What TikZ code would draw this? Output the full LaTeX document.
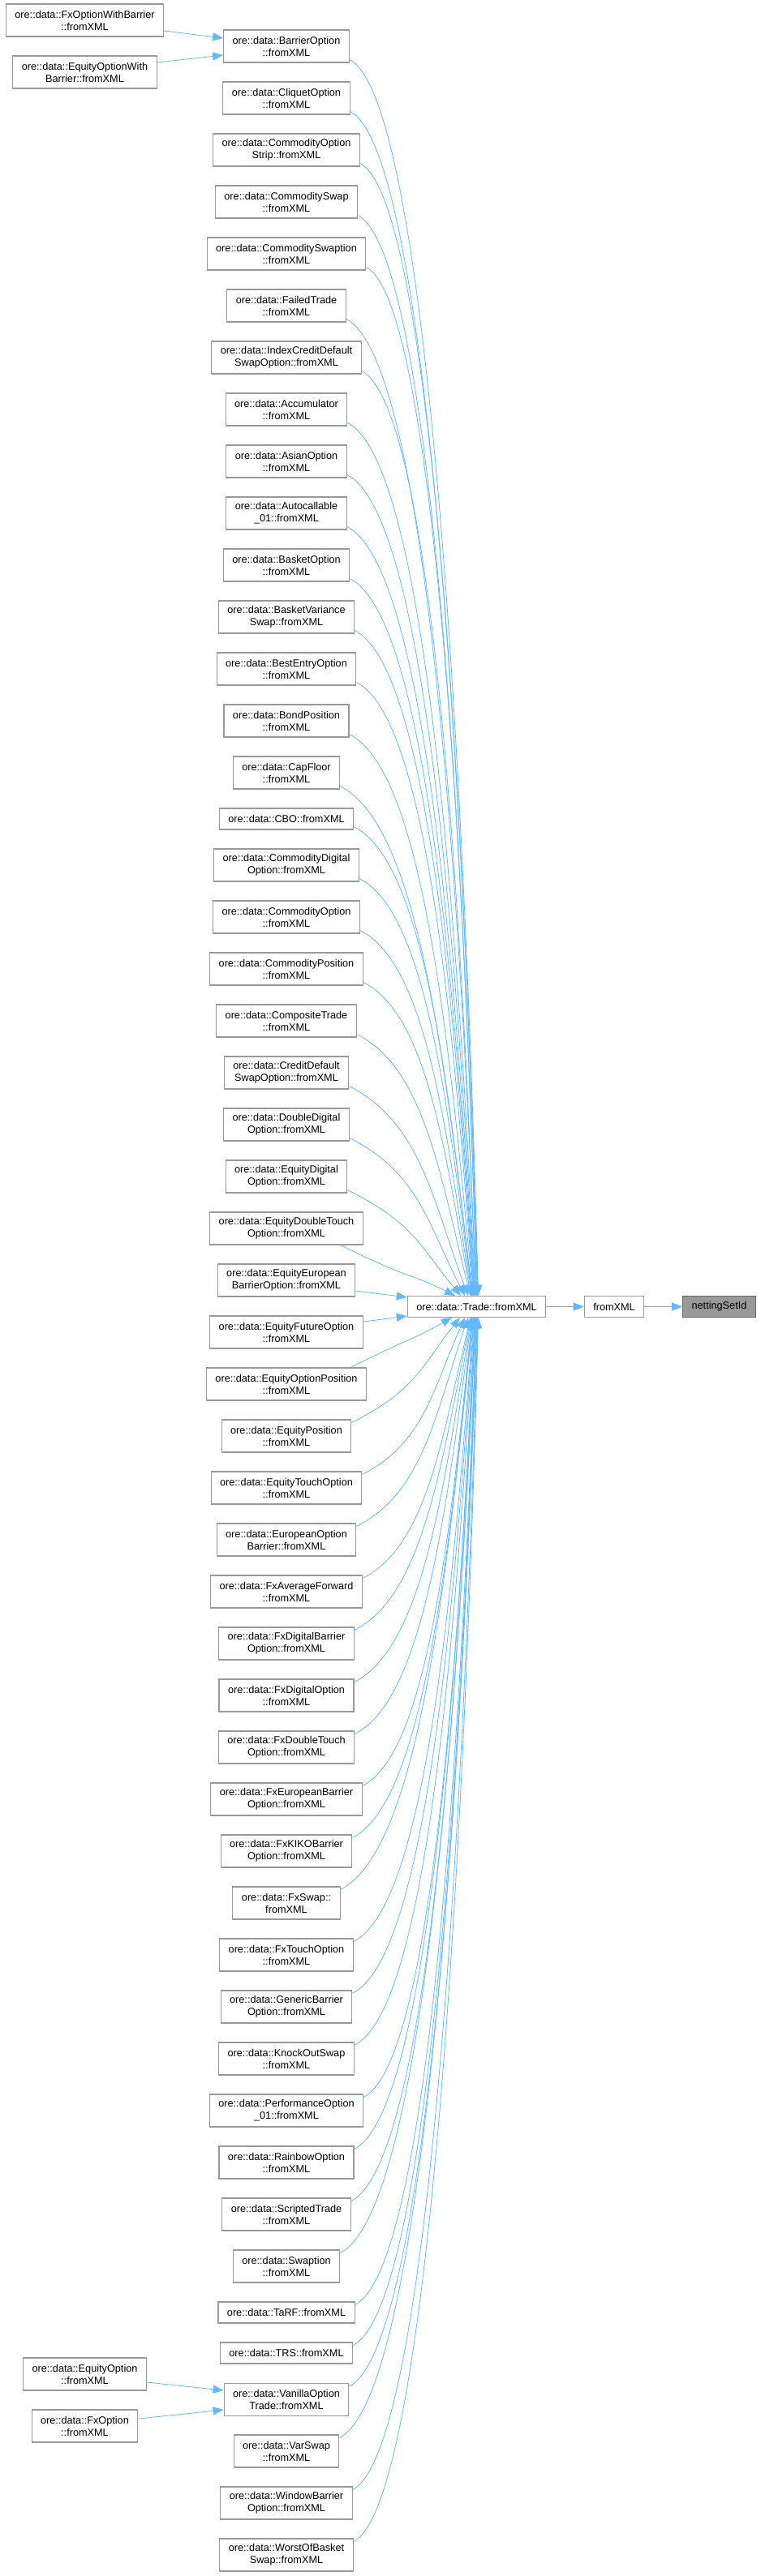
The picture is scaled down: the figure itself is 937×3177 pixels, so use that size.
\documentclass[tikz,border=0pt]{standalone}
\usepackage{fontspec}
\setmainfont{Liberation Sans}
\usetikzlibrary{arrows.meta,calc}
\definecolor{edgeblue}{HTML}{63B8FF}
\definecolor{boxgray}{HTML}{999999}
\definecolor{hlfill}{HTML}{999999}
\definecolor{hldraw}{HTML}{666666}
\newcommand\gfont{\fontsize{12.7pt}{15pt}\selectfont}
\newcommand\fanedge[3]{%
  \draw[edge] let \p1=#1, \p2=#2, \n1={\x2-\x1}, \n2={abs(\y1-\y2)},
    \n3={(\n1)/((\n1)+0.3*(\n2))} in
    (\p1) .. controls ($(\p1)+({0.6*\n1},{(#3)*0.3*\n1})$)
    and ($(\p2)+({-0.45*\n1*\n3},{(-1)*(#3)*0.45*\n2})$) .. (\p2);}
\begin{document}
\begin{tikzpicture}[x=1pt,y=1pt,
  box/.style={draw=boxgray, fill=white, line width=1.1pt, inner xsep=11pt,
    inner ysep=2pt, align=center, font=\gfont, minimum height=40pt},
  box1/.style={box, minimum height=26pt},
  hl/.style={box1, fill=hlfill, draw=hldraw},
  edge/.style={draw=edgeblue, line width=0.8pt, -{Triangle[length=13pt,width=10pt]}}]
\fill[white] (0,0) rectangle (937,-3177);
\useasboundingbox (0,0) rectangle (937,-3177);

% left column
\node[box] (fxowb) at (104.5,-25) {ore::data::FxOptionWithBarrier\\::fromXML};
\node[box] (eqowb) at (104.5,-89) {ore::data::EquityOptionWith\\Barrier::fromXML};
\node[box] (eqo) at (104.5,-2928) {ore::data::EquityOption\\::fromXML};
\node[box] (fxo) at (104.5,-2992) {ore::data::FxOption\\::fromXML};

% middle column
\node[box] (n0) at (353,-57) {ore::data::BarrierOption\\::fromXML};
\node[box] (n1) at (353,-121) {ore::data::CliquetOption\\::fromXML};
\node[box] (n2) at (353,-185) {ore::data::CommodityOption\\Strip::fromXML};
\node[box] (n3) at (353,-249) {ore::data::CommoditySwap\\::fromXML};
\node[box] (n4) at (353,-313) {ore::data::CommoditySwaption\\::fromXML};
\node[box] (n5) at (353,-377) {ore::data::FailedTrade\\::fromXML};
\node[box] (n6) at (353,-441) {ore::data::IndexCreditDefault\\SwapOption::fromXML};
\node[box] (n7) at (353,-505) {ore::data::Accumulator\\::fromXML};
\node[box] (n8) at (353,-569) {ore::data::AsianOption\\::fromXML};
\node[box] (n9) at (353,-633) {ore::data::Autocallable\\\_01::fromXML};
\node[box] (n10) at (353,-697) {ore::data::BasketOption\\::fromXML};
\node[box] (n11) at (353,-761) {ore::data::BasketVariance\\Swap::fromXML};
\node[box] (n12) at (353,-825) {ore::data::BestEntryOption\\::fromXML};
\node[box] (n13) at (353,-889) {ore::data::BondPosition\\::fromXML};
\node[box] (n14) at (353,-953) {ore::data::CapFloor\\::fromXML};
\node[box1] (n15) at (353,-1010) {ore::data::CBO::fromXML};
\node[box] (n16) at (353,-1067) {ore::data::CommodityDigital\\Option::fromXML};
\node[box] (n17) at (353,-1131) {ore::data::CommodityOption\\::fromXML};
\node[box] (n18) at (353,-1195) {ore::data::CommodityPosition\\::fromXML};
\node[box] (n19) at (353,-1259) {ore::data::CompositeTrade\\::fromXML};
\node[box] (n20) at (353,-1323) {ore::data::CreditDefault\\SwapOption::fromXML};
\node[box] (n21) at (353,-1387) {ore::data::DoubleDigital\\Option::fromXML};
\node[box] (n22) at (353,-1451) {ore::data::EquityDigital\\Option::fromXML};
\node[box] (n23) at (353,-1515) {ore::data::EquityDoubleTouch\\Option::fromXML};
\node[box] (n24) at (353,-1579) {ore::data::EquityEuropean\\BarrierOption::fromXML};
\node[box] (n25) at (353,-1643) {ore::data::EquityFutureOption\\::fromXML};
\node[box] (n26) at (353,-1707) {ore::data::EquityOptionPosition\\::fromXML};
\node[box] (n27) at (353,-1771) {ore::data::EquityPosition\\::fromXML};
\node[box] (n28) at (353,-1835) {ore::data::EquityTouchOption\\::fromXML};
\node[box] (n29) at (353,-1899) {ore::data::EuropeanOption\\Barrier::fromXML};
\node[box] (n30) at (353,-1963) {ore::data::FxAverageForward\\::fromXML};
\node[box] (n31) at (353,-2027) {ore::data::FxDigitalBarrier\\Option::fromXML};
\node[box] (n32) at (353,-2091) {ore::data::FxDigitalOption\\::fromXML};
\node[box] (n33) at (353,-2155) {ore::data::FxDoubleTouch\\Option::fromXML};
\node[box] (n34) at (353,-2219) {ore::data::FxEuropeanBarrier\\Option::fromXML};
\node[box] (n35) at (353,-2283) {ore::data::FxKIKOBarrier\\Option::fromXML};
\node[box] (n36) at (353,-2347) {ore::data::FxSwap::\\fromXML};
\node[box] (n37) at (353,-2411) {ore::data::FxTouchOption\\::fromXML};
\node[box] (n38) at (353,-2475) {ore::data::GenericBarrier\\Option::fromXML};
\node[box] (n39) at (353,-2539) {ore::data::KnockOutSwap\\::fromXML};
\node[box] (n40) at (353,-2603) {ore::data::PerformanceOption\\\_01::fromXML};
\node[box] (n41) at (353,-2667) {ore::data::RainbowOption\\::fromXML};
\node[box] (n42) at (353,-2731) {ore::data::ScriptedTrade\\::fromXML};
\node[box] (n43) at (353,-2795) {ore::data::Swaption\\::fromXML};
\node[box1] (n44) at (353,-2852) {ore::data::TaRF::fromXML};
\node[box1] (n45) at (353,-2902) {ore::data::TRS::fromXML};
\node[box] (n46) at (353,-2959.5) {ore::data::VanillaOption\\Trade::fromXML};
\node[box] (n47) at (353,-3023) {ore::data::VarSwap\\::fromXML};
\node[box] (n48) at (353,-3087) {ore::data::WindowBarrier\\Option::fromXML};
\node[box] (n49) at (353,-3151) {ore::data::WorstOfBasket\\Swap::fromXML};

% right part
\node[box1] (trade) at (587.5,-1611.5) {ore::data::Trade::fromXML};
\node[box1] (fromxml) at (757,-1611.5) {fromXML};
\node[hl] (nsid) at (886.5,-1611.5) {nettingSetId};

% edges left column
\draw[edge] ($(fxowb.east)+(0,-13)$) -- ($(n0.west)+(0,10)$);
\draw[edge] ($(eqowb.east)+(0,12)$) -- ($(n0.west)+(0,-11)$);
\draw[edge] ($(eqo.east)+(0,-10)$) -- ($(n46.west)+(0,11.5)$);
\draw[edge] ($(fxo.east)+(0,9)$) -- ($(n46.west)+(0,-12.5)$);

% fan above trade
\foreach \k/\o in {0/2.0,1/1.5,2/1.0,3/0.5,4/0,5/-0.5,6/-1,7/-1.5,8/-2,9/-2.5,
  10/-3,11/-3.5,12/-4,13/-4.5,14/-5,15/-5.5,16/-6,17/-6.5,18/-7,19/-7.5,
  20/-10.5,21/-14.5,22/-19.5}
  {\fanedge{($(n\k.south east)+(0,4)$)}{($(trade.north)+(\o,0)$)}{-1}}
\fanedge{($(n23.south east)+(-28,0)$)}{($(trade.north)+(-26.5,0)$)}{-1}

% straight edges to trade's left side
\draw[edge] ($(n24.east)+(0,-13)$) -- ($(trade.north west)+(0,-2)$);
\draw[edge] ($(n25.east)+(0,13)$) -- ($(trade.south west)+(0,2)$);

% fan below trade
\fanedge{($(n26.north east)+(-20,0)$)}{($(trade.south)+(-30.5,0)$)}{1}
\foreach \k/\o in {27/-20.5,28/-14.5,29/-10.5,30/-7.5,31/-7,32/-6.5,33/-6,
  34/-5.5,35/-5,36/-4.5,37/-4,38/-3.5,39/-3,40/-2.5,41/-2,42/-1.5,43/-1,
  44/-0.5,45/0,46/0.5,47/1,48/1.5,49/2}
  {\fanedge{($(n\k.north east)+(0,-4)$)}{($(trade.south)+(\o,0)$)}{1}}

% right chain
\draw[edge] (trade) -- (fromxml);
\draw[edge] (fromxml) -- (nsid);
\end{tikzpicture}
\end{document}
